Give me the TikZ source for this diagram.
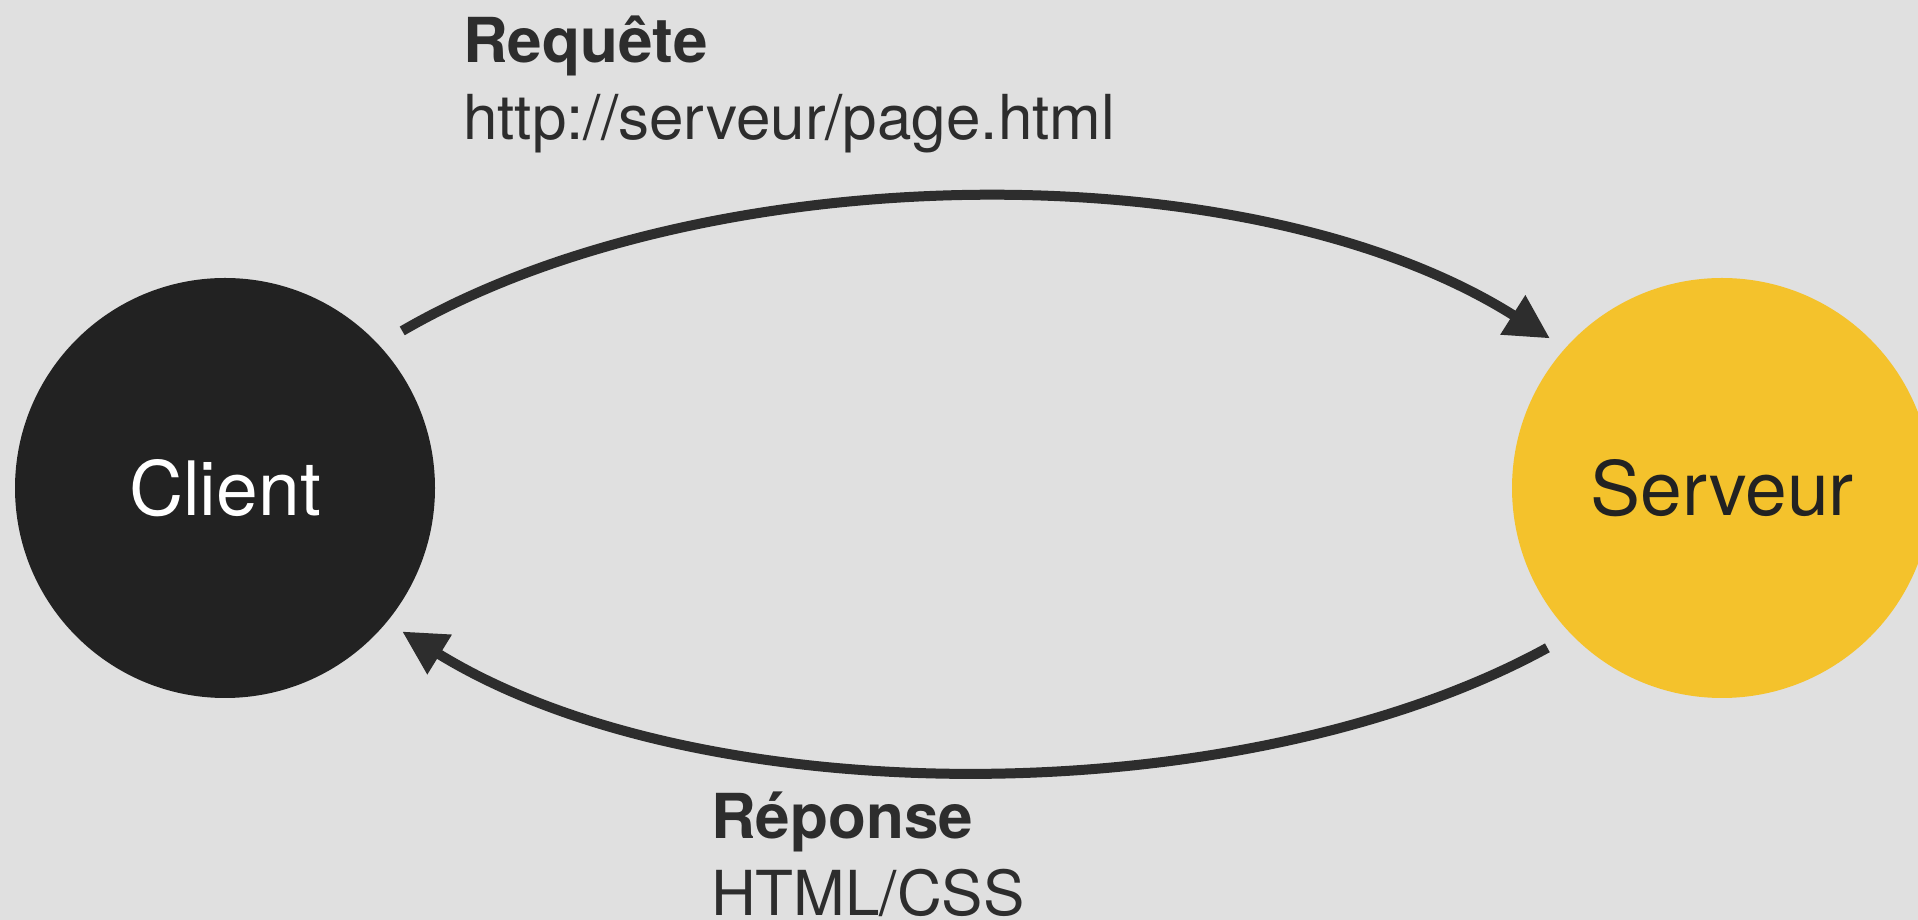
\documentclass[tikz,border=0pt]{standalone}
\usepackage{fontspec}
\setmainfont{TeX Gyre Heros}
\usetikzlibrary{arrows.meta}
\definecolor{fond}{HTML}{E0E0E0}
\definecolor{noir}{HTML}{222222}
\definecolor{jaune}{HTML}{F4C22C}
\definecolor{encre}{HTML}{2D2D2D}
\begin{document}
\begin{tikzpicture}[x=1pt,y=1pt,
  rond/.style={circle, minimum size=420pt, inner sep=0pt, outer sep=18pt, font=\fontsize{75}{90}\selectfont},
  fleche/.style={draw=encre, line width=10pt, shorten <=9pt, -{Triangle[length=44pt,width=44pt]}},
  titre/.style={anchor=base west, inner sep=0pt, text=encre, font=\fontsize{62}{74}\selectfont\bfseries},
  detail/.style={anchor=base west, inner sep=0pt, text=encre, font=\fontsize{62}{74}\selectfont}]
%Fond
\useasboundingbox (0,0) rectangle (1918,920);
\clip (0,0) rectangle (1918,920);
\fill[fond] (0,0) rectangle (1918,920);

%Noeuds
\node[rond, fill=noir, text=white] (client) at (225,432) {Client};
\node[rond, fill=jaune, text=noir] (serveur) at (1722,432) {Serveur};

%Fleches
\draw[fleche] (client.42.6) .. controls +(310,180) and +(-300,190) .. (serveur.139.8);
\draw[fleche] (serveur.-137.7) .. controls +(-310,-170) and +(300,-185) .. (client.-39.6);

%Textes
\node[titre] (requete) at (463,857) {Requête};
\node[detail] (url) at (463,780) {http://serveur/page.html};
\node[titre] (reponse) at (711,81) {Réponse};
\node[detail] (format) at (711,4) {HTML/CSS};
\end{tikzpicture}
\end{document}
